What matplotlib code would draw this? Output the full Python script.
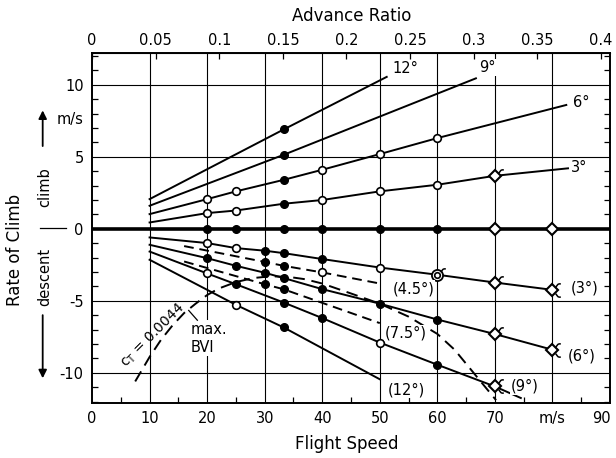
import matplotlib
matplotlib.use("Agg")
import matplotlib.pyplot as plt
from matplotlib.path import Path
from matplotlib.transforms import ScaledTranslation

# climb, collective 12/9/6/3 deg: flight speed (m/s) vs rate of climb (m/s)
c12_v = [10, 33.3, 51.2]
c12_rc = [2.06, 6.9, 10.55]
c9_v = [10, 33.3, 66.7]
c9_rc = [1.6, 5.14, 10.45]
c6_v = [10, 20, 25, 33.3, 40, 50, 60, 82.4]
c6_rc = [1.02, 2.06, 2.6, 3.4, 4.1, 5.19, 6.3, 8.6]
c3_v = [10, 20, 25, 33.3, 40, 50, 60, 70, 82.7]
c3_rc = [0.44, 1.09, 1.27, 1.74, 2.0, 2.6, 3.06, 3.68, 4.2]

# level flight
c0_v = [0, 90]
c0_rc = [0, 0]

# descent, collective in brackets
d3_v = [10, 20, 25, 30, 33.3, 40, 50, 60, 70, 80]
d3_rc = [-0.6, -0.99, -1.34, -1.52, -1.69, -2.1, -2.69, -3.19, -3.73, -4.24]
d45_v = [16, 30, 33.3, 40, 50]
d45_rc = [-1.2, -2.3, -2.57, -3.03, -3.8]
d6_v = [10, 20, 25, 30, 33.3, 40, 50, 60, 70, 80]
d6_rc = [-1.11, -2.04, -2.57, -3.05, -3.42, -4.19, -5.2, -6.3, -7.31, -8.4]
d75_v = [16, 30, 33.3, 50]
d75_rc = [-2.27, -3.85, -4.2, -6.55]
d9_v = [10, 20, 25, 33.3, 40, 50, 60, 70, 74.5]
d9_rc = [-1.58, -3.1, -3.85, -5.12, -6.2, -7.9, -9.44, -10.95, -11.75]
d12_v = [10, 25, 33.3, 50]
d12_rc = [-2.15, -5.28, -6.85, -10.45]

# c_T = 0.0044 boundary (max. BVI)
ct_v = [7.5, 10, 12, 14, 16, 18, 20, 22, 25, 28, 31, 34, 37, 40, 44.7, 50, 55, 60, 63, 66.7, 70.2]
ct_rc = [-10.6, -8.9, -7.7, -6.7, -5.85, -5.2, -4.6, -4.15, -3.7, -3.42, -3.3, -3.33, -3.5,
         -3.8, -4.45, -5.2, -6.1, -7.3, -8.4, -10.2, -11.9]

# measured points
open_v = [20, 25, 40, 50, 60, 20, 25, 40, 50, 60, 20, 25, 50, 40, 20, 50, 25]
open_rc = [2.06, 2.6, 4.1, 5.19, 6.3, 1.09, 1.27, 2.0, 2.6, 3.06,
           -0.99, -1.34, -2.69, -3.03, -3.1, -7.9, -5.28]
filled_v = [33.3, 33.3, 33.3, 33.3, 20, 25, 33.3, 40, 50, 60,
            30, 33.3, 40, 30, 33.3, 20, 25, 30, 33.3, 40, 50, 60,
            30, 33.3, 25, 33.3, 40, 60, 33.3]
filled_rc = [6.9, 5.14, 3.4, 1.74, 0, 0, 0, 0, 0, 0,
             -1.52, -1.69, -2.1, -2.3, -2.57, -2.04, -2.57, -3.05, -3.42, -4.19, -5.2, -6.3,
             -3.85, -4.2, -3.85, -5.12, -6.2, -9.44, -6.85]
diamond_v = [70, 70, 80, 70, 80, 70, 80, 70]
diamond_rc = [3.68, 0, 0, -3.73, -4.24, -7.31, -8.4, -10.95]
ring_v = [60]
ring_rc = [-3.19]
flag_up_v = [70, 60, 70, 70]
flag_up_rc = [3.68, -3.19, -3.73, -7.31]
flag_both_v = [80, 80, 70]
flag_both_rc = [-4.24, -8.4, -10.95]

curve_labels = ["12°", "9°", "6°", "3°", "(3°)", "(4.5°)", "(6°)", "(7.5°)", "(9°)", "(12°)"]
label_v = [52.2, 67.3, 83.5, 83.2, 83.2, 52.2, 82.6, 50.8, 72.8, 51.3]
label_rc = [11.15, 11.2, 8.75, 4.25, -4.1, -4.15, -8.8, -7.25, -10.95, -11.2]

omega_r = 221.0  # rotor tip speed, m/s
mu_ticks = [0, 0.05, 0.1, 0.15, 0.2, 0.25, 0.3, 0.35, 0.4]
mu_labels = ["0", "0.05", "0.1", "0.15", "0.2", "0.25", "0.3", "0.35", "0.4"]
v_ticks = [0, 10, 20, 30, 40, 50, 60, 70, 80, 90]
v_labels = ["0", "10", "20", "30", "40", "50", "60", "70", "m/s", "90"]
rc_ticks = [-10, -5, 0, 5, 10]
rc_labels = ["-10", "-5", "0", "5", "10"]

plt.rcParams["font.family"] = "DejaVu Sans"

fig = plt.figure(figsize=(6.16, 4.58), dpi=100)
ax = fig.add_axes([0.1494, 0.120, 0.8409, 0.764])
ax.set_xlim(0, 90)
ax.set_ylim(-12.1, 12.2)

for y in [-10, -5, 5, 10]:
    ax.axhline(y, color="black", lw=0.8, zorder=1)
for x in range(10, 90, 10):
    ax.axvline(x, color="black", lw=0.8, zorder=1)

lw = 1.4
solid = [(c12_v, c12_rc), (c9_v, c9_rc), (c6_v, c6_rc), (c3_v, c3_rc),
         (d3_v, d3_rc), (d6_v, d6_rc), (d9_v, d9_rc), (d12_v, d12_rc)]
for v, rc in solid:
    ax.plot(v, rc, color="black", lw=lw, zorder=3)
for v, rc in [(d45_v, d45_rc), (d75_v, d75_rc)]:
    ax.plot(v, rc, color="black", lw=lw, ls=(0, (5, 3)), zorder=3)
ax.plot(ct_v, ct_rc, color="black", lw=lw, ls=(0, (6, 3.5)), zorder=3)
ax.plot(c0_v, c0_rc, color="black", lw=2.6, zorder=3)

ax.plot(open_v, open_rc, "o", ms=5.5, mfc="white", mec="black", mew=1.2, zorder=5)
ax.plot(filled_v, filled_rc, "o", ms=5.5, mfc="black", mec="black", zorder=5)
ax.plot(diamond_v, diamond_rc, "D", ms=6.5, mfc="white", mec="black", mew=1.5, zorder=5)
ax.plot(ring_v, ring_rc, "o", ms=8, mfc="white", mec="black", mew=1.3, zorder=5)
ax.plot(ring_v, ring_rc, "o", ms=4, mfc="white", mec="black", mew=1.2, zorder=6)

# little hook on selected points
S = 1.6
hook_up = [(0.5, 0.5), (0.8, 0.9), (1.0, 1.15), (1.3, 1.0)]
hook_dn = [(x, -y) for x, y in hook_up]
box = [(-S, -S), (S, S)]
codes_one = [Path.MOVETO, Path.LINETO, Path.CURVE3, Path.CURVE3]
up_path = Path(box + hook_up, [Path.MOVETO, Path.MOVETO] + codes_one)
both_path = Path(box + hook_up + hook_dn, [Path.MOVETO, Path.MOVETO] + codes_one + codes_one)
fs = 2.26 * 6.5
ax.plot(flag_up_v, flag_up_rc, ls="none", marker=up_path, ms=fs, mfc="none",
        mec="black", mew=1.1, zorder=6)
ax.plot(flag_both_v, flag_both_rc, ls="none", marker=both_path, ms=fs, mfc="none",
        mec="black", mew=1.1, zorder=6)

for t, v, rc in zip(curve_labels, label_v, label_rc):
    ax.text(v, rc, t, fontsize=10.5, ha="left", va="center", zorder=7,
            bbox=dict(fc="white", ec="none", pad=0.5))

ax.text(10.6, -7.4, "c$_\\mathregular{T}$ = 0.0044", fontsize=10, rotation=45,
        ha="center", va="center", rotation_mode="anchor", zorder=7)
ax.text(17.2, -7.6, "max.\nBVI", fontsize=10.5, ha="left", va="center",
        linespacing=1.25, zorder=7, bbox=dict(fc="white", ec="none", pad=1))
ax.plot([16.8, 18.3], [-5.67, -6.35], color="black", lw=0.9, zorder=7)

ax.set_xticks(v_ticks)
ax.set_xticklabels(v_labels, fontsize=10.5)
ax.set_yticks(rc_ticks)
ax.set_yticklabels(rc_labels, fontsize=10.5)
ax.set_xticks(range(5, 90, 10), minor=True)
ax.set_yticks(range(-12, 13), minor=True)
ax.tick_params(which="major", length=0, pad=6)
ax.tick_params(which="minor", direction="in", length=4, width=0.9,
               left=True, right=True, bottom=True, top=False)
for s in ax.spines.values():
    s.set_linewidth(1.4)

# keep the last speed label inside the figure edge
last = ax.get_xticklabels()[-1]
last.set_transform(last.get_transform() + ScaledTranslation(-6 / 72, 0, fig.dpi_scale_trans))

top = ax.secondary_xaxis("top", functions=(lambda v: v / omega_r, lambda m: m * omega_r))
top.set_xticks(mu_ticks)
top.set_xticklabels(mu_labels, fontsize=10.5)
top.tick_params(direction="in", length=4, width=0.9, pad=4)

fig.text(0.571, 0.965, "Advance Ratio", fontsize=12, ha="center", va="center")
fig.text(0.563, 0.030, "Flight Speed", fontsize=12, ha="center", va="center")
fig.text(0.024, 0.455, "Rate of Climb", fontsize=12, rotation=90, ha="center", va="center")
fig.text(0.073, 0.592, "climb", fontsize=10.5, rotation=90, ha="center", va="center")
fig.text(0.073, 0.395, "descent", fontsize=10.5, rotation=90, ha="center", va="center")
fig.text(0.114, 0.738, "m/s", fontsize=10.5, ha="center", va="center")

arrow = dict(arrowstyle="-|>", color="black", lw=1.3, mutation_scale=12)
fig.add_artist(matplotlib.patches.FancyArrowPatch((0.0693, 0.675), (0.0693, 0.765),
                                                  transform=fig.transFigure, **arrow))
fig.add_artist(matplotlib.patches.FancyArrowPatch((0.0693, 0.318), (0.0693, 0.168),
                                                  transform=fig.transFigure, **arrow))
fig.add_artist(matplotlib.lines.Line2D([0.065, 0.107], [0.502, 0.502], color="black",
                                       lw=0.9, transform=fig.transFigure))

fig.savefig("out.png", dpi=100)
